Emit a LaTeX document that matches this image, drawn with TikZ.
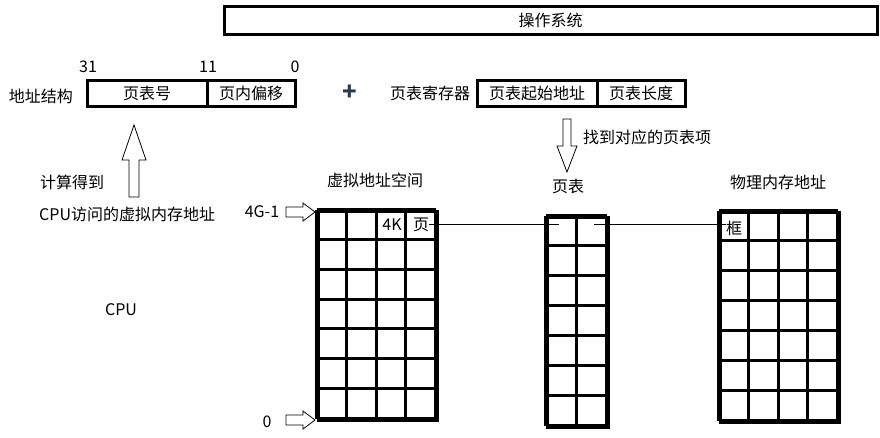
\documentclass[tikz,border=0pt]{standalone}
\usepackage{fontspec}
\setmainfont{Noto Sans CJK SC}
\usetikzlibrary{positioning}
\definecolor{plusblue}{RGB}{40,62,80}

\begin{document}
\begin{tikzpicture}[x=1pt, y=-1pt,
  lbl/.style={font=\fontsize{16}{18}\selectfont, inner sep=0pt},
  regbox/.style={lbl, draw, line width=3pt, minimum height=26pt},
  membox/.style={draw, line width=3pt, inner sep=0pt},
  cellline/.style={line width=3pt},
  link/.style={line width=0.8pt},
  hollow/.style={draw, line width=0.8pt, fill=white, line join=miter},
]
\useasboundingbox (0,0) rectangle (880,437);

% operating system bar
\node[membox, lbl, minimum width=653pt, minimum height=28pt] (os) at (550.5,20) {操作系统};

% address structure
\node[lbl] (addr) at (41,96) {地址结构};
\node[regbox, minimum width=120pt] (pnum) at (147,93) {页表号};
\node[regbox, minimum width=88pt] (poff) at (251,93) {页内偏移};
\node[lbl] (b31) at (88,67) {31};
\node[lbl] (b11) at (208,67) {11};
\node[lbl] (b0) at (295,67) {0};

\node[lbl, font=\fontsize{24}{24}\bfseries, text=plusblue] (plus) at (350,93) {+};

% page table register
\node[lbl] (ptr) at (430,93) {页表寄存器};
\node[regbox, minimum width=120pt] (ptbase) at (537,93) {页表起始地址};
\node[regbox, minimum width=88pt] (ptlen) at (641,93) {页表长度};

\draw[hollow] (563,119) -- (563,146) -- (557,146) -- (567,172) -- (577,146) -- (571,146) -- (571,119) -- cycle;
\node[lbl, anchor=west] (find) at (583,137) {找到对应的页表项};

% cpu side
\draw[hollow] (129,197) -- (129,160) -- (122,160) -- (134,125) -- (146,160) -- (139,160) -- (139,197) -- cycle;
\node[lbl, anchor=west] (calc) at (40,182) {计算得到};
\node[lbl, anchor=west] (vaddr) at (39,214) {CPU访问的虚拟内存地址};
\node[lbl] (cpu) at (121,310) {CPU};

% titles
\node[lbl] (vastxt) at (375,180) {虚拟地址空间};
\node[lbl] (pttxt) at (568,186) {页表};
\node[lbl] (pmtxt) at (778,182) {物理内存地址};

% virtual address space
\node[membox, minimum width=119pt, minimum height=209pt] (vas) at (377.5,315.5) {};
\draw[cellline, shift={(vas.north west)}, xstep=29.75pt, ystep=29.857pt] (0,0) grid (119,209);
\node[lbl] (top) at (262,212) {4G-1};
\node[lbl] (bot) at (267,422) {0};
\draw[hollow] (286,207) -- (303,207) -- (303,203) -- (315,212) -- (303,221) -- (303,217) -- (286,217) -- cycle;
\draw[hollow, shift={(0,208)}] (286,207) -- (303,207) -- (303,203) -- (315,212) -- (303,221) -- (303,217) -- (286,217) -- cycle;
\node[lbl] (k4) at (392,225) {4K};
\node[lbl] (pg) at (421,225) {页};

% page table
\node[membox, minimum width=61pt, minimum height=210pt] (pt) at (577.5,322) {};
\draw[cellline, shift={(pt.north west)}, xstep=30.5pt, ystep=30pt] (0,0) grid (61,210);
\coordinate (pte) at (559,224);
\coordinate (ptf) at (594,224);

% physical memory
\node[membox, minimum width=119pt, minimum height=210pt] (pm) at (779.5,317) {};
\draw[cellline, shift={(pm.north west)}, xstep=29.75pt, ystep=30pt] (0,0) grid (119,210);
\node[lbl] (frame) at (734,228) {框};

\draw[link] (pg.east |- pte) -- (pte);
\draw[link] (ptf) -- (ptf -| frame.west);
\end{tikzpicture}
\end{document}
